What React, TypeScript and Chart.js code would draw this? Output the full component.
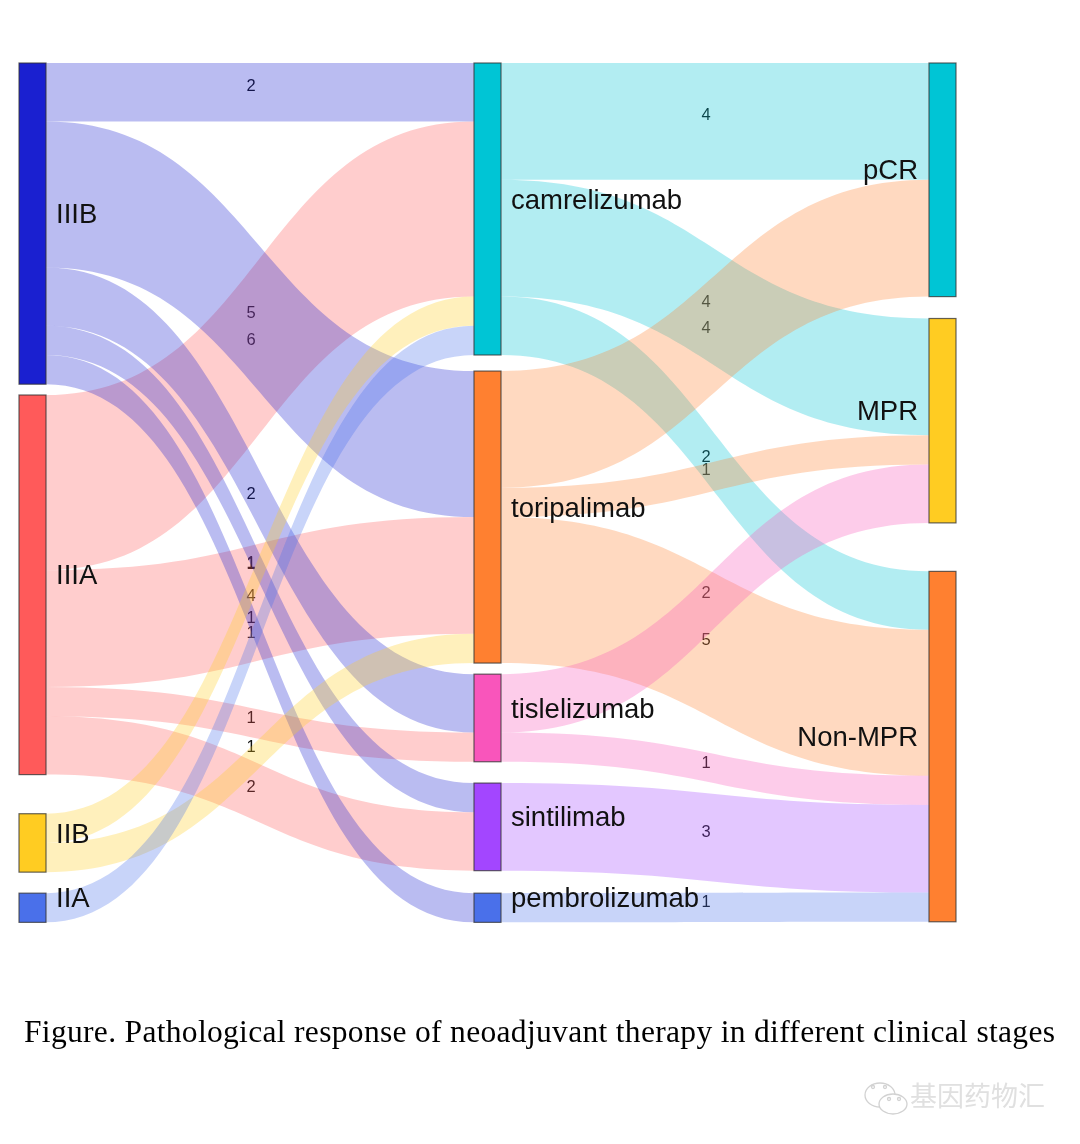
import React, { useEffect, useRef } from "react";
import { Chart, registerables } from "chart.js";

Chart.register(...registerables);

const stageNames = ["IIIB", "IIIA", "IIB", "IIA"];
const drugNames = ["camrelizumab", "toripalimab", "tislelizumab", "sintilimab", "pembrolizumab"];
const responseNames = ["pCR", "MPR", "Non-MPR"];

const stageColors = ["#1a20d0", "#ff5a5a", "#ffcc22", "#4a70ea"];
const drugColors = ["#00c5d5", "#ff8030", "#f955bb", "#a346ff", "#4a70ea"];
const responseColors = ["#00c5d5", "#ffcc22", "#ff8030"];

// gaps between the nodes of each column, in patient units
const stageGaps = [0.37, 1.34, 0.72];
const drugGaps = [0.55, 0.38, 0.73, 0.77];
const responseGaps = [0.75, 1.66];

// stage -> drug links
const stageLinkFrom = [0, 0, 0, 0, 0, 1, 1, 1, 1, 2, 2, 3];
const stageLinkTo = [0, 1, 2, 3, 4, 0, 1, 2, 3, 0, 1, 0];
const stageLinkValue = [2, 5, 2, 1, 1, 6, 4, 1, 2, 1, 1, 1];

// drug -> response links
const drugLinkFrom = [0, 0, 0, 1, 1, 1, 2, 2, 3, 4];
const drugLinkTo = [0, 1, 2, 0, 1, 2, 1, 2, 2, 2];
const drugLinkValue = [4, 4, 2, 4, 1, 5, 2, 1, 3, 1];

// stages whose bands are painted first (the IIIA bands lie under the IIIB bands)
const stagePaintOrder = [1, 0, 2, 3];

const captionText = "Figure. Pathological response of neoadjuvant therapy in different clinical stages";
const watermarkText = "基因药物汇";

type Node = { name: string; color: string; col: number; top: number; size: number; outUsed: number; inUsed: number };

function buildColumn(names: string[], colors: string[], gaps: number[], col: number, sizes: number[]): Node[] {
  let y = 0;
  return names.map((name, i) => {
    const n = { name, color: colors[i], col, top: y, size: sizes[i], outUsed: 0, inUsed: 0 };
    y += sizes[i] + (gaps[i] ?? 0);
    return n;
  });
}

function totals(count: number, idx: number[], vals: number[]): number[] {
  const t = new Array(count).fill(0);
  idx.forEach((k, i) => (t[k] += vals[i]));
  return t;
}

const stageNodes = buildColumn(stageNames, stageColors, stageGaps, 0, totals(4, stageLinkFrom, stageLinkValue));
const drugNodes = buildColumn(drugNames, drugColors, drugGaps, 1, totals(5, stageLinkTo, stageLinkValue));
const responseNodes = buildColumn(responseNames, responseColors, responseGaps, 2, totals(3, drugLinkTo, drugLinkValue));
const allNodes = [...stageNodes, ...drugNodes, ...responseNodes];

type Link = { source: number; color: string; x0: number; x1: number; a0: number; a1: number; b0: number; b1: number; value: number };

function buildLinks(fromNodes: Node[], toNodes: Node[], from: number[], to: number[], vals: number[]): Link[] {
  return from.map((f, i) => {
    const s = fromNodes[f];
    const t = toNodes[to[i]];
    const a0 = s.top + s.outUsed;
    const b0 = t.top + t.inUsed;
    s.outUsed += vals[i];
    t.inUsed += vals[i];
    return { source: f, color: s.color, x0: s.col, x1: t.col, a0, a1: a0 + vals[i], b0, b1: b0 + vals[i], value: vals[i] };
  });
}

const stageLinks = buildLinks(stageNodes, drugNodes, stageLinkFrom, stageLinkTo, stageLinkValue);
const drugLinks = buildLinks(drugNodes, responseNodes, drugLinkFrom, drugLinkTo, drugLinkValue);
const paintedLinks = [
  ...stagePaintOrder.flatMap((s) => stageLinks.filter((l) => l.source === s)),
  ...drugLinks,
];

const NODE_W = 27;
const SANS = '"Liberation Sans", Arial, sans-serif';

const sankeyPlugin = {
  id: "sankey",
  beforeDatasetsDraw(chart: any) {
    const { ctx, scales } = chart;
    const X = (v: number) => scales.x.getPixelForValue(v);
    const Y = (v: number) => scales.y.getPixelForValue(v);
    ctx.save();

    // link value labels sit under the translucent bands
    ctx.font = `16.5px ${SANS}`;
    ctx.fillStyle = "#111";
    ctx.textAlign = "center";
    ctx.textBaseline = "middle";
    paintedLinks.forEach((l) => {
      const mx = (X(l.x0) + X(l.x1)) / 2 + 4.5;
      const my = Y((l.a0 + l.a1 + l.b0 + l.b1) / 4) - 5.5;
      ctx.fillText(String(l.value), mx, my);
    });

    // bands
    paintedLinks.forEach((l) => {
      const xa = X(l.x0) + NODE_W;
      const xb = X(l.x1);
      const xm = (xa + xb) / 2;
      ctx.beginPath();
      ctx.moveTo(xa, Y(l.a0));
      ctx.bezierCurveTo(xm, Y(l.a0), xm, Y(l.b0), xb, Y(l.b0));
      ctx.lineTo(xb, Y(l.b1));
      ctx.bezierCurveTo(xm, Y(l.b1), xm, Y(l.a1), xa, Y(l.a1));
      ctx.closePath();
      ctx.globalAlpha = 0.3;
      ctx.fillStyle = l.color;
      ctx.fill();
      ctx.globalAlpha = 1;
    });

    // nodes
    allNodes.forEach((n) => {
      const x = X(n.col);
      const y = Y(n.top);
      const h = Y(n.top + n.size) - y;
      ctx.fillStyle = n.color;
      ctx.fillRect(x, y, NODE_W, h);
      ctx.strokeStyle = "rgba(50,50,50,0.75)";
      ctx.lineWidth = 1.2;
      ctx.strokeRect(x, y, NODE_W, h);
    });

    // node names
    ctx.font = `27.5px ${SANS}`;
    ctx.fillStyle = "#111";
    ctx.textBaseline = "middle";
    allNodes.forEach((n) => {
      const y = Y(n.top + n.size / 2) - 8;
      if (n.col === 2) {
        ctx.textAlign = "right";
        ctx.fillText(n.name, X(n.col) - 11, y);
      } else {
        ctx.textAlign = "left";
        ctx.fillText(n.name, X(n.col) + NODE_W + 10, y);
      }
    });

    // caption
    ctx.font = '31.5px "Liberation Serif", "Times New Roman", serif';
    ctx.fillStyle = "#000";
    ctx.textAlign = "left";
    ctx.textBaseline = "alphabetic";
    (ctx as any).letterSpacing = "0.32px";
    ctx.fillText(captionText, 24, 1042);
    (ctx as any).letterSpacing = "0px";

    // watermark
    ctx.font = '27px "Noto Sans CJK SC", sans-serif';
    ctx.fillStyle = "#e0e0e0";
    ctx.textAlign = "left";
    ctx.textBaseline = "middle";
    ctx.fillText(watermarkText, 910, 1096);
    ctx.strokeStyle = "#d2d2d2";
    ctx.lineWidth = 1.3;
    ctx.beginPath();
    ctx.ellipse(880, 1095, 15, 12, 0, 0, Math.PI * 2);
    ctx.stroke();
    ctx.fillStyle = "#fff";
    ctx.beginPath();
    ctx.ellipse(893, 1104, 14, 10, 0, 0, Math.PI * 2);
    ctx.fill();
    ctx.stroke();
    [
      [873, 1087],
      [885, 1087],
      [889, 1099],
      [899, 1099],
    ].forEach(([ex, ey]) => {
      ctx.beginPath();
      ctx.arc(ex, ey, 1.5, 0, Math.PI * 2);
      ctx.stroke();
    });
    ctx.restore();
  },
};

export default function App() {
  const ref = useRef<HTMLCanvasElement>(null);
  useEffect(() => {
    document.body.style.margin = "0";
    document.body.style.background = "#fff";
    const chart = new Chart(ref.current!, {
      type: "scatter",
      data: {
        datasets: [
          {
            label: "nodes",
            data: allNodes.map((n) => ({ x: n.col, y: n.top + n.size / 2 })),
            pointRadius: 0,
          },
        ],
      },
      options: {
        responsive: false,
        animation: false,
        layout: { padding: 0 },
        plugins: { legend: { display: false }, tooltip: { enabled: false }, title: { display: false } },
        scales: {
          x: { type: "linear", display: false, min: -19 / 455, max: (1080 - 19) / 455 },
          y: { type: "linear", display: false, reverse: true, min: -63 / 29.2, max: (1144 - 63) / 29.2 },
        },
      },
      plugins: [sankeyPlugin],
    });
    return () => chart.destroy();
  }, []);
  return <canvas ref={ref} width={1080} height={1144} style={{ display: "block" }} />;
}
